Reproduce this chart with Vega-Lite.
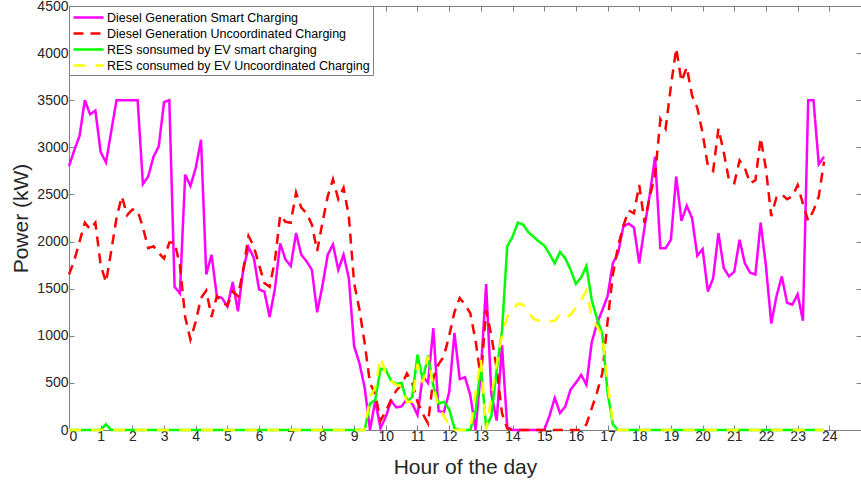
{
  "$schema": "https://vega.github.io/schema/vega-lite/v6.json",
  "width": 792,
  "height": 424,
  "autosize": {"type": "none"},
  "padding": {"left": 69, "top": 6, "right": 0, "bottom": 62},
  "background": "white",
  "config": {
    "view": {"stroke": null},
    "axis": {
      "domainColor": "#808080",
      "tickColor": "#808080",
      "labelColor": "#262626",
      "labelFont": "Liberation Sans",
      "labelFontSize": 14,
      "titleFont": "Liberation Sans",
      "titleFontSize": 21,
      "titleFontWeight": "normal",
      "titleColor": "#262626",
      "grid": false,
      "tickSize": -5
    },
    "legend": {
      "labelFont": "Liberation Sans",
      "labelFontSize": 12.5,
      "labelColor": "#000000",
      "labelLimit": 0
    }
  },
  "data": {
    "values": [
      {"h": 0, "ds": 2800, "du": 1650, "gs": 0, "gu": 0},
      {"h": 0.167, "ds": 2970, "du": 1800, "gs": 0, "gu": 0},
      {"h": 0.333, "ds": 3120, "du": 2000, "gs": 0, "gu": 0},
      {"h": 0.5, "ds": 3500, "du": 2200, "gs": 0, "gu": 0},
      {"h": 0.667, "ds": 3350, "du": 2130, "gs": 0, "gu": 0},
      {"h": 0.833, "ds": 3390, "du": 2200, "gs": 0, "gu": 0},
      {"h": 1, "ds": 2950, "du": 1750, "gs": 0, "gu": 0},
      {"h": 1.167, "ds": 2840, "du": 1570, "gs": 60, "gu": 0},
      {"h": 1.333, "ds": 3170, "du": 1900, "gs": 0, "gu": 0},
      {"h": 1.5, "ds": 3500, "du": 2250, "gs": 0, "gu": 0},
      {"h": 1.667, "ds": 3500, "du": 2480, "gs": 0, "gu": 0},
      {"h": 1.833, "ds": 3500, "du": 2280, "gs": 0, "gu": 0},
      {"h": 2, "ds": 3500, "du": 2340, "gs": 0, "gu": 0},
      {"h": 2.167, "ds": 3500, "du": 2330, "gs": 0, "gu": 0},
      {"h": 2.333, "ds": 2610, "du": 2150, "gs": 0, "gu": 0},
      {"h": 2.5, "ds": 2690, "du": 1930, "gs": 0, "gu": 0},
      {"h": 2.667, "ds": 2900, "du": 1950, "gs": 0, "gu": 0},
      {"h": 2.833, "ds": 3010, "du": 1880, "gs": 0, "gu": 0},
      {"h": 3, "ds": 3480, "du": 1820, "gs": 0, "gu": 0},
      {"h": 3.167, "ds": 3500, "du": 1990, "gs": 0, "gu": 0},
      {"h": 3.333, "ds": 1520, "du": 1990, "gs": 0, "gu": 0},
      {"h": 3.5, "ds": 1450, "du": 1750, "gs": 0, "gu": 0},
      {"h": 3.667, "ds": 2710, "du": 1200, "gs": 0, "gu": 0},
      {"h": 3.833, "ds": 2590, "du": 960, "gs": 0, "gu": 0},
      {"h": 4, "ds": 2780, "du": 1150, "gs": 0, "gu": 0},
      {"h": 4.167, "ds": 3080, "du": 1400, "gs": 0, "gu": 0},
      {"h": 4.333, "ds": 1650, "du": 1480, "gs": 0, "gu": 0},
      {"h": 4.5, "ds": 1860, "du": 1200, "gs": 0, "gu": 0},
      {"h": 4.667, "ds": 1420, "du": 1420, "gs": 0, "gu": 0},
      {"h": 4.833, "ds": 1400, "du": 1360, "gs": 0, "gu": 0},
      {"h": 5, "ds": 1310, "du": 1320, "gs": 0, "gu": 0},
      {"h": 5.167, "ds": 1570, "du": 1470, "gs": 0, "gu": 0},
      {"h": 5.333, "ds": 1260, "du": 1420, "gs": 0, "gu": 0},
      {"h": 5.5, "ds": 1700, "du": 1700, "gs": 0, "gu": 0},
      {"h": 5.667, "ds": 1940, "du": 2060, "gs": 0, "gu": 0},
      {"h": 5.833, "ds": 1830, "du": 1950, "gs": 0, "gu": 0},
      {"h": 6, "ds": 1490, "du": 1750, "gs": 0, "gu": 0},
      {"h": 6.167, "ds": 1470, "du": 1560, "gs": 0, "gu": 0},
      {"h": 6.333, "ds": 1200, "du": 1520, "gs": 0, "gu": 0},
      {"h": 6.5, "ds": 1500, "du": 1800, "gs": 0, "gu": 0},
      {"h": 6.667, "ds": 1980, "du": 2280, "gs": 0, "gu": 0},
      {"h": 6.833, "ds": 1810, "du": 2210, "gs": 0, "gu": 0},
      {"h": 7, "ds": 1740, "du": 2200, "gs": 0, "gu": 0},
      {"h": 7.167, "ds": 2090, "du": 2520, "gs": 0, "gu": 0},
      {"h": 7.333, "ds": 1860, "du": 2360, "gs": 0, "gu": 0},
      {"h": 7.5, "ds": 1790, "du": 2300, "gs": 0, "gu": 0},
      {"h": 7.667, "ds": 1700, "du": 2180, "gs": 0, "gu": 0},
      {"h": 7.833, "ds": 1250, "du": 1900, "gs": 0, "gu": 0},
      {"h": 8, "ds": 1530, "du": 2200, "gs": 0, "gu": 0},
      {"h": 8.167, "ds": 1860, "du": 2480, "gs": 0, "gu": 0},
      {"h": 8.333, "ds": 1970, "du": 2660, "gs": 0, "gu": 0},
      {"h": 8.5, "ds": 1700, "du": 2450, "gs": 0, "gu": 0},
      {"h": 8.667, "ds": 1860, "du": 2570, "gs": 0, "gu": 0},
      {"h": 8.833, "ds": 1610, "du": 2270, "gs": 0, "gu": 0},
      {"h": 9, "ds": 890, "du": 1560, "gs": 0, "gu": 0},
      {"h": 9.167, "ds": 710, "du": 1280, "gs": 0, "gu": 0},
      {"h": 9.333, "ds": 450, "du": 920, "gs": 0, "gu": 0},
      {"h": 9.5, "ds": 0, "du": 500, "gs": 280, "gu": 350},
      {"h": 9.667, "ds": 310, "du": 380, "gs": 320, "gu": 450},
      {"h": 9.833, "ds": 20, "du": 100, "gs": 650, "gu": 770},
      {"h": 10, "ds": 140, "du": 200, "gs": 640, "gu": 600},
      {"h": 10.167, "ds": 310, "du": 320, "gs": 520, "gu": 520},
      {"h": 10.333, "ds": 240, "du": 420, "gs": 490, "gu": 480},
      {"h": 10.5, "ds": 250, "du": 480, "gs": 500, "gu": 460},
      {"h": 10.667, "ds": 330, "du": 600, "gs": 300, "gu": 300},
      {"h": 10.833, "ds": 280, "du": 500, "gs": 350, "gu": 300},
      {"h": 11, "ds": 160, "du": 300, "gs": 800, "gu": 700},
      {"h": 11.167, "ds": 570, "du": 170, "gs": 530, "gu": 500},
      {"h": 11.333, "ds": 500, "du": 70, "gs": 790, "gu": 780},
      {"h": 11.5, "ds": 1080, "du": 550, "gs": 470, "gu": 450},
      {"h": 11.667, "ds": 200, "du": 700, "gs": 280, "gu": 250},
      {"h": 11.833, "ds": 190, "du": 780, "gs": 300, "gu": 150},
      {"h": 12, "ds": 400, "du": 1000, "gs": 220, "gu": 50},
      {"h": 12.167, "ds": 1030, "du": 1250, "gs": 20, "gu": 0},
      {"h": 12.333, "ds": 540, "du": 1400, "gs": 0, "gu": 0},
      {"h": 12.5, "ds": 560, "du": 1330, "gs": 0, "gu": 0},
      {"h": 12.667, "ds": 370, "du": 1240, "gs": 0, "gu": 0},
      {"h": 12.833, "ds": 0, "du": 950, "gs": 200, "gu": 400},
      {"h": 13, "ds": 620, "du": 550, "gs": 680, "gu": 750},
      {"h": 13.167, "ds": 1550, "du": 1270, "gs": 30, "gu": 0},
      {"h": 13.333, "ds": 380, "du": 1000, "gs": 150, "gu": 350},
      {"h": 13.5, "ds": 100, "du": 650, "gs": 640, "gu": 700},
      {"h": 13.667, "ds": 900, "du": 180, "gs": 1050, "gu": 1000},
      {"h": 13.833, "ds": 30, "du": 15, "gs": 1950, "gu": 1200},
      {"h": 14, "ds": 0, "du": 0, "gs": 2050, "gu": 1260},
      {"h": 14.167, "ds": 0, "du": 0, "gs": 2200, "gu": 1340},
      {"h": 14.333, "ds": 0, "du": 0, "gs": 2180, "gu": 1330},
      {"h": 14.5, "ds": 0, "du": 0, "gs": 2100, "gu": 1250},
      {"h": 14.667, "ds": 0, "du": 0, "gs": 2050, "gu": 1180},
      {"h": 14.833, "ds": 0, "du": 0, "gs": 2000, "gu": 1160},
      {"h": 15, "ds": 0, "du": 0, "gs": 1960, "gu": 1150},
      {"h": 15.167, "ds": 150, "du": 0, "gs": 1870, "gu": 1150},
      {"h": 15.333, "ds": 340, "du": 0, "gs": 1770, "gu": 1160},
      {"h": 15.5, "ds": 180, "du": 0, "gs": 1890, "gu": 1230},
      {"h": 15.667, "ds": 250, "du": 0, "gs": 1820, "gu": 1200},
      {"h": 15.833, "ds": 430, "du": 0, "gs": 1700, "gu": 1220},
      {"h": 16, "ds": 500, "du": 0, "gs": 1550, "gu": 1300},
      {"h": 16.167, "ds": 585, "du": 0, "gs": 1620, "gu": 1380},
      {"h": 16.333, "ds": 480, "du": 60, "gs": 1740, "gu": 1480},
      {"h": 16.5, "ds": 930, "du": 230, "gs": 1380, "gu": 1200},
      {"h": 16.667, "ds": 1130, "du": 400, "gs": 1180, "gu": 1100},
      {"h": 16.833, "ds": 1270, "du": 600, "gs": 1020, "gu": 1000},
      {"h": 17, "ds": 1420, "du": 1150, "gs": 400, "gu": 500},
      {"h": 17.167, "ds": 1770, "du": 1650, "gs": 60, "gu": 80},
      {"h": 17.333, "ds": 1880, "du": 1950, "gs": 0, "gu": 0},
      {"h": 17.5, "ds": 2160, "du": 2170, "gs": 0, "gu": 0},
      {"h": 17.667, "ds": 2190, "du": 2330, "gs": 0, "gu": 0},
      {"h": 17.833, "ds": 2150, "du": 2300, "gs": 0, "gu": 0},
      {"h": 18, "ds": 1770, "du": 2600, "gs": 0, "gu": 0},
      {"h": 18.167, "ds": 2150, "du": 2200, "gs": 0, "gu": 0},
      {"h": 18.333, "ds": 2500, "du": 2480, "gs": 0, "gu": 0},
      {"h": 18.5, "ds": 2900, "du": 2700, "gs": 0, "gu": 0},
      {"h": 18.667, "ds": 1930, "du": 3300, "gs": 0, "gu": 0},
      {"h": 18.833, "ds": 1930, "du": 3200, "gs": 0, "gu": 0},
      {"h": 19, "ds": 2020, "du": 3650, "gs": 0, "gu": 0},
      {"h": 19.167, "ds": 2690, "du": 4050, "gs": 0, "gu": 0},
      {"h": 19.333, "ds": 2220, "du": 3700, "gs": 0, "gu": 0},
      {"h": 19.5, "ds": 2380, "du": 3850, "gs": 0, "gu": 0},
      {"h": 19.667, "ds": 2250, "du": 3550, "gs": 0, "gu": 0},
      {"h": 19.833, "ds": 1850, "du": 3420, "gs": 0, "gu": 0},
      {"h": 20, "ds": 1920, "du": 3150, "gs": 0, "gu": 0},
      {"h": 20.167, "ds": 1470, "du": 2800, "gs": 0, "gu": 0},
      {"h": 20.333, "ds": 1610, "du": 2750, "gs": 0, "gu": 0},
      {"h": 20.5, "ds": 2090, "du": 3200, "gs": 0, "gu": 0},
      {"h": 20.667, "ds": 1720, "du": 2950, "gs": 0, "gu": 0},
      {"h": 20.833, "ds": 1630, "du": 2650, "gs": 0, "gu": 0},
      {"h": 21, "ds": 1680, "du": 2620, "gs": 0, "gu": 0},
      {"h": 21.167, "ds": 2020, "du": 2860, "gs": 0, "gu": 0},
      {"h": 21.333, "ds": 1770, "du": 2780, "gs": 0, "gu": 0},
      {"h": 21.5, "ds": 1670, "du": 2620, "gs": 0, "gu": 0},
      {"h": 21.667, "ds": 1650, "du": 2650, "gs": 0, "gu": 0},
      {"h": 21.833, "ds": 2200, "du": 3100, "gs": 0, "gu": 0},
      {"h": 22, "ds": 1740, "du": 2770, "gs": 0, "gu": 0},
      {"h": 22.167, "ds": 1130, "du": 2270, "gs": 0, "gu": 0},
      {"h": 22.333, "ds": 1420, "du": 2470, "gs": 0, "gu": 0},
      {"h": 22.5, "ds": 1630, "du": 2500, "gs": 0, "gu": 0},
      {"h": 22.667, "ds": 1350, "du": 2450, "gs": 0, "gu": 0},
      {"h": 22.833, "ds": 1330, "du": 2480, "gs": 0, "gu": 0},
      {"h": 23, "ds": 1440, "du": 2600, "gs": 0, "gu": 0},
      {"h": 23.167, "ds": 1160, "du": 2400, "gs": 0, "gu": 0},
      {"h": 23.333, "ds": 3500, "du": 2220, "gs": 0, "gu": 0},
      {"h": 23.5, "ds": 3500, "du": 2330, "gs": 0, "gu": 0},
      {"h": 23.667, "ds": 2820, "du": 2480, "gs": 0, "gu": 0},
      {"h": 23.833, "ds": 2900, "du": 2850, "gs": 0, "gu": 0}
    ]
  },
  "transform": [{"fold": ["ds", "du", "gs", "gu"], "as": ["key", "value"]}],
  "encoding": {
    "color": {
      "field": "key",
      "type": "nominal",
      "scale": {"domain": ["ds", "du", "gs", "gu"], "range": ["#FF00FF", "#FF0000", "#00FF00", "#FFFF00"]},
      "legend": {
        "title": null,
        "orient": "top-left",
        "offset": 0,
        "padding": 3,
        "rowPadding": 1,
        "strokeColor": "#808080",
        "fillColor": "white",
        "cornerRadius": 0,
        "symbolType": "M-1,0H3.3",
        "symbolSize": 196,
        "symbolStrokeWidth": 2.5,
        "labelOffset": 18,
        "labelLimit": 0,
        "labelExpr": "{'ds':'Diesel Generation Smart Charging','du':'Diesel Generation Uncoordinated Charging','gs':'RES sonsumed by EV smart charging','gu':'RES consumed by EV Uncoordinated Charging'}[datum.label]"
      }
    },
    "strokeDash": {
      "field": "key",
      "type": "nominal",
      "scale": {"domain": ["ds", "du", "gs", "gu"], "range": [[1, 0], [10, 7], [1, 0], [12, 10]]},
      "legend": {
        "title": null,
        "orient": "top-left",
        "offset": 0,
        "padding": 3,
        "rowPadding": 1,
        "strokeColor": "#808080",
        "fillColor": "white",
        "cornerRadius": 0,
        "symbolType": "M-1,0H3.3",
        "symbolSize": 196,
        "symbolStrokeWidth": 2.5,
        "labelOffset": 18,
        "labelLimit": 0,
        "labelExpr": "{'ds':'Diesel Generation Smart Charging','du':'Diesel Generation Uncoordinated Charging','gs':'RES sonsumed by EV smart charging','gu':'RES consumed by EV Uncoordinated Charging'}[datum.label]"
      }
    }
  },
  "layer": [
    {
      "transform": [{"filter": "datum.key == 'ds'"}],
      "mark": {"type": "line", "strokeWidth": 2.5},
      "encoding": {
        "x": {"field": "h", "type": "quantitative", "scale": {"domain": [0, 25], "nice": false},
          "axis": {"orient": "bottom", "values": [0,1,2,3,4,5,6,7,8,9,10,11,12,13,14,15,16,17,18,19,20,21,22,23,24], "title": "Hour of the day", "labelPadding": 4, "titlePadding": 13}},
        "y": {"field": "value", "type": "quantitative", "scale": {"domain": [0, 4500], "nice": false},
          "axis": {"orient": "left", "values": [0,500,1000,1500,2000,2500,3000,3500,4000,4500], "format": "d", "title": "Power (kW)", "labelPadding": 6, "titlePadding": 5}}
      }
    },
    {
      "transform": [{"filter": "datum.key == 'du'"}],
      "mark": {"type": "line", "strokeWidth": 2.5},
      "encoding": {
        "x": {"field": "h", "type": "quantitative", "scale": {"domain": [0, 25], "nice": false},
          "axis": {"orient": "top", "values": [0,1,2,3,4,5,6,7,8,9,10,11,12,13,14,15,16,17,18,19,20,21,22,23,24], "labels": false, "title": null}},
        "y": {"field": "value", "type": "quantitative", "scale": {"domain": [0, 4500], "nice": false},
          "axis": {"orient": "right", "values": [0,500,1000,1500,2000,2500,3000,3500,4000,4500], "labels": false, "title": null}}
      }
    },
    {
      "transform": [{"filter": "datum.key == 'gs'"}],
      "mark": {"type": "line", "strokeWidth": 2.5},
      "encoding": {
        "x": {"field": "h", "type": "quantitative", "scale": {"domain": [0, 25], "nice": false}, "axis": null},
        "y": {"field": "value", "type": "quantitative", "scale": {"domain": [0, 4500], "nice": false}, "axis": null}
      }
    },
    {
      "transform": [{"filter": "datum.key == 'gu'"}],
      "mark": {"type": "line", "strokeWidth": 2.5},
      "encoding": {
        "x": {"field": "h", "type": "quantitative", "scale": {"domain": [0, 25], "nice": false}, "axis": null},
        "y": {"field": "value", "type": "quantitative", "scale": {"domain": [0, 4500], "nice": false}, "axis": null}
      }
    }
  ],
  "resolve": {"axis": {"x": "independent", "y": "independent"}}
}
